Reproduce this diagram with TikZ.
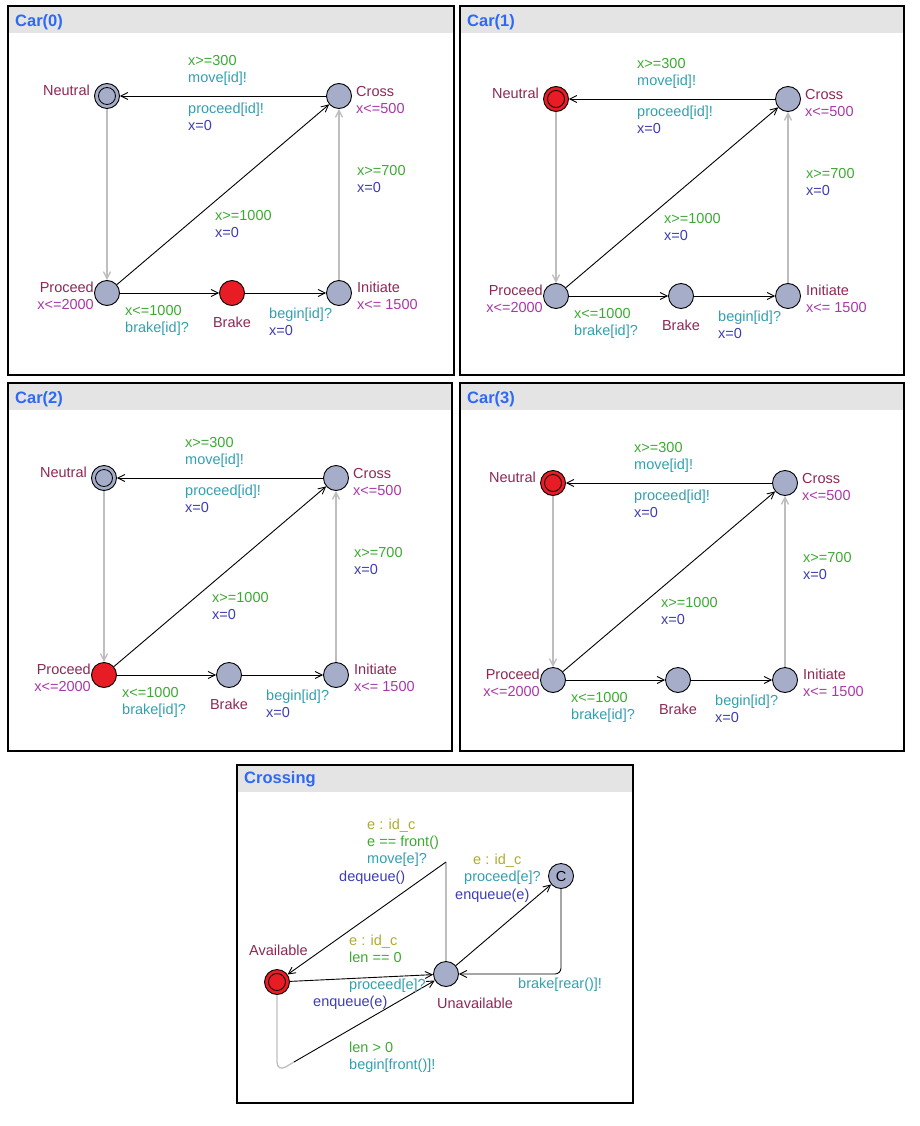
\documentclass[tikz,border=0pt]{standalone}
\usepackage{fontspec}
\setmainfont{Liberation Sans}
\usetikzlibrary{arrows.meta,positioning}

\definecolor{cloc}{RGB}{166,173,201}
\definecolor{cred}{RGB}{232,28,36}
\definecolor{cname}{RGB}{140,40,85}
\definecolor{cinv}{RGB}{170,55,170}
\definecolor{cgrd}{RGB}{60,170,50}
\definecolor{csyn}{RGB}{50,160,175}
\definecolor{cupd}{RGB}{60,60,180}
\definecolor{csel}{RGB}{175,170,50}
\definecolor{ctitle}{RGB}{45,105,245}
\definecolor{chead}{RGB}{228,228,228}
\definecolor{cgrey}{RGB}{190,190,190}

\newcommand\guard[1]{\textcolor{cgrd}{#1}}
\newcommand\sync[1]{\textcolor{csyn}{#1}}
\newcommand\upd[1]{\textcolor{cupd}{#1}}
\newcommand\invar[1]{\textcolor{cinv}{#1}}
\newcommand\selc[1]{\textcolor{csel}{#1}}
\newcommand\locname[1]{\textcolor{cname}{#1}}

\tikzset{font=\fontsize{14.5}{17}\selectfont}
\tikzset{
  >={Straight Barb[length=7pt,width=7pt]},
  loc/.style={circle,draw,fill=cloc,minimum size=25pt,inner sep=0pt,line width=0.9pt},
  ring/.style={circle,draw,minimum size=17pt,inner sep=0pt,line width=0.8pt},
  tr/.style={->,line width=0.9pt},
  greyline/.style={->,draw=cgrey,line width=1.3pt},
  lbl/.style={inner sep=0pt,align=left,anchor=west},
  panel/.style={draw,line width=1.5pt},
  head/.style={fill=chead},
  title/.style={font=\fontsize{16.5}{18}\selectfont\bfseries,text=ctitle,anchor=west,inner sep=0pt},
  hlneutral/.style={},hlcross/.style={},hlproceed/.style={},hlbrake/.style={},hlinitiate/.style={}
}

\begin{document}
\begin{tikzpicture}[x=1pt,y=-1pt]
\useasboundingbox (0,0) rectangle (920,1126);
% the four cars
\foreach \n/\px/\py/\qx/\qy/\nx/\ny/\act in {0/8/6/454/375/107/96/brake,
    1/460/6/904/375/556/99/neutral, 2/8/383/452/751/104/478/proceed,
    3/460/383/904/751/553/483/neutral}{
  \tikzset{hl\act/.style={fill=cred}}
  \fill[head] (\px,\py) rectangle (\qx,\py+27);
  \draw[panel] (\px,\py) rectangle (\qx,\qy);
  \node[title] (title\n) at (\px+7,\py+16) {Car(\n)};
  \begin{scope}[shift={(\nx,\ny)}]
    \node[loc,hlneutral] (neutral\n) at (0,0) {};
    \node[ring] (ring\n) at (0,0) {};
    \node[loc,hlcross] (cross\n) at (232,0) {};
    \node[loc,hlproceed] (proceed\n) at (0,197) {};
    \node[loc,hlbrake] (brake\n) at (125,197) {};
    \node[loc,hlinitiate] (initiate\n) at (232,197) {};
    \node[lbl,anchor=east] (nneutral\n) at (-17,-6) {\locname{Neutral}};
    \node[lbl] (ncross\n) at (249,4) {\locname{Cross}\\\invar{x<=500}};
    \node[lbl,anchor=east,align=right] (nproceed\n) at (-13,200) {\locname{Proceed}\\\invar{x<=2000}};
    \node[inner sep=0pt] (nbrake\n) at (125,226) {\locname{Brake}};
    \node[lbl] (ninitiate\n) at (250,200) {\locname{Initiate}\\\invar{x<= 1500}};
    \node[lbl] (lmove\n) at (81,-26) {\guard{x>=300}\\\sync{move[id]!}};
    \node[lbl] (lproc\n) at (81,21) {\sync{proceed[id]!}\\\upd{x=0}};
    \node[lbl] (linit\n) at (250,83) {\guard{x>=700}\\\upd{x=0}};
    \node[lbl] (ldiag\n) at (108,128) {\guard{x>=1000}\\\upd{x=0}};
    \node[lbl] (lbrake\n) at (18,224) {\guard{x<=1000}\\\sync{brake[id]?}};
    \node[lbl] (lbegin\n) at (162,226) {\sync{begin[id]?}\\\upd{x=0}};
    \draw[tr] (cross\n) -- (neutral\n);
    \draw[greyline] (neutral\n) -- (proceed\n);
    \draw[tr] (proceed\n) -- (cross\n);
    \draw[tr] (proceed\n) -- (brake\n);
    \draw[tr] (brake\n) -- (initiate\n);
    \draw[greyline] (initiate\n) -- (cross\n);
  \end{scope}
}
% crossing
\fill[head] (237,765) rectangle (633,792);
\draw[panel] (237,765) rectangle (633,1103);
\node[title] (titlecr) at (244,779) {Crossing};
\node[loc,fill=cred] (avail) at (277,982) {};
\node[ring] (availring) at (277,982) {};
\node[loc] (unavail) at (446,974) {};
\node[loc] (cnode) at (561,876) {C};
\coordinate (nailtop) at (446,862);
\coordinate (nailbot) at (277,1072);
\coordinate (nailmid) at (294,1062);
\coordinate (nailright) at (561,974);
\draw[greyline,-] (unavail) -- (nailtop);
\draw[tr] (nailtop) -- (avail);
\draw[tr] (avail) -- (unavail);
\draw[greyline,-,rounded corners=10pt] (avail) -- (nailbot) -- (nailmid);
\draw[tr] (nailmid) -- (unavail);
\draw[tr] (unavail) -- (cnode);
\draw[tr,rounded corners=6pt] (cnode) -- (nailright) -- (unavail);
\node[lbl] (lsel1) at (367,843) {\selc{e : id\_c}\\\guard{e == front()}\\\sync{move[e]?}};
\node[lbl] (ldeq) at (339,878) {\upd{dequeue()}};
\node[lbl] (lsel2) at (473,861) {\selc{e : id\_c}};
\node[lbl] (lpro1) at (464,878) {\sync{proceed[e]?}};
\node[lbl] (lenq1) at (455,896) {\upd{enqueue(e)}};
\node[lbl] (lavail) at (249,950) {\locname{Available}};
\node[lbl] (lsel3) at (349,949) {\selc{e : id\_c}\\\guard{len == 0}};
\node[lbl] (lpro2) at (349,986) {\sync{proceed[e]?}};
\node[lbl] (lenq2) at (313,1003) {\upd{enqueue(e)}};
\node[lbl] (lunav) at (437,1003) {\locname{Unavailable}};
\node[lbl] (lbrk) at (518,985) {\sync{brake[rear()]!}};
\node[lbl] (lbeg) at (349,1057) {\guard{len > 0}\\\sync{begin[front()]!}};
\end{tikzpicture}
\end{document}
